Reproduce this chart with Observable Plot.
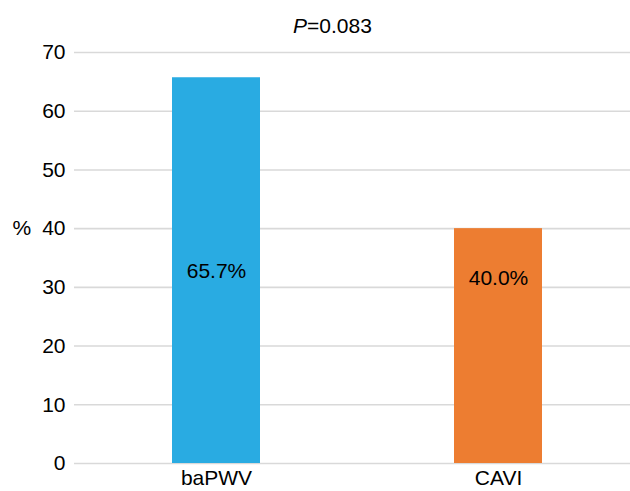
<!DOCTYPE html>
<html>
<head>
<meta charset="utf-8">
<script src="https://cdn.jsdelivr.net/npm/d3@7"></script>
<script src="https://cdn.jsdelivr.net/npm/@observablehq/plot@0.6"></script>
<style>
  body { margin: 0; background: #fff; }
  #chart svg { display: block; font-family: "Liberation Sans", Arial, sans-serif; }
</style>
</head>
<body>
<div id="chart"></div>
<script>
const categories = ["baPWV", "CAVI"];
const values = [65.7, 40.0];
const valueLabels = ["65.7%", "40.0%"];
const labelAt = [32.8, 31.5];
const colors = ["#29ABE2", "#ED7D31"];
const yTicks = [0, 10, 20, 30, 40, 50, 60, 70];
const yUnit = "%";
const yUnitAt = 40;
const title = "P=0.083";

const data = categories.map((c, i) => ({cat: c, value: values[i], label: valueLabels[i], ly: labelAt[i], color: colors[i]}));

const FS = 21;
const chart = Plot.plot({
  width: 630,
  height: 491,
  marginTop: 52,
  marginBottom: 28,
  marginLeft: 74,
  marginRight: 0,
  style: {fontFamily: "'Liberation Sans', Arial, sans-serif", fontSize: FS + "px", color: "#000", background: "#fff"},
  x: {domain: categories, range: [74, 639], padding: 0, label: null},
  y: {domain: [0, 70], label: null},
  marks: [
    Plot.gridY(yTicks, {stroke: "#d9d9d9", strokeOpacity: 1, strokeWidth: 1.6}),
    Plot.barY(data, {x: "cat", y: "value", fill: "color", insetLeft: 97, insetRight: 97}),
    Plot.text(data, {x: "cat", y: "ly", text: "label", fill: "#000", fontSize: FS}),
    Plot.axisY(yTicks, {tickSize: 0, tickPadding: 9, fontSize: FS, label: null, tickFormat: d => d}),
    Plot.axisX({tickSize: 0, tickPadding: 7, fontSize: FS, label: null}),
    Plot.text([yUnit], {frameAnchor: "left", y: () => yUnitAt, text: d => d, dx: -62, fontSize: FS, fill: "#000"}),
    Plot.text([title], {frameAnchor: "top", text: d => d, dx: -20, dy: -20, lineAnchor: "bottom", fontSize: FS, fill: "#000", className: "ptitle"})
  ]
});
document.getElementById("chart").appendChild(chart);

// italic P in title
d3.select(chart).selectAll("g.ptitle text").each(function() {
  const t = d3.select(this);
  const s = t.text();
  t.text(null);
  t.append("tspan").attr("font-style", "italic").text(s.slice(0, 1));
  t.append("tspan").text(s.slice(1));
});
</script>
</body>
</html>
